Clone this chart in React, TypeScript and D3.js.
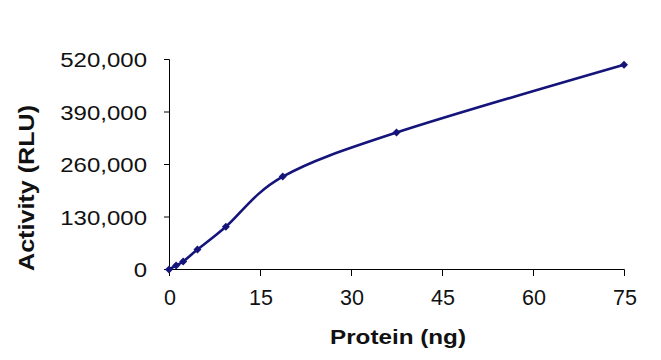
import React from "react";
import * as d3 from "d3";

const proteinNg = [0, 1.17, 2.34, 4.69, 9.38, 18.75, 37.5, 75];
const activityRLU = [0, 10000, 20000, 49500, 106000, 230000, 339000, 507000];
const xTicks = [0, 15, 30, 45, 60, 75];
const yTicks = [0, 130000, 260000, 390000, 520000];
const xTitle = "Protein (ng)";
const yTitle = "Activity (RLU)";

const W = 661;
const H = 360;
const x = d3.scaleLinear().domain([0, 75]).range([169, 624]);
const y = d3.scaleLinear().domain([0, 520000]).range([269.5, 59.5]);
const fmt = d3.format(",");
const color = "#14147a";

const charW = (s: string) =>
  s.split("").reduce((a, c) => a + (c === "," ? 0.278 : 0.556), 0);

export default function App() {
  const pts: [number, number][] = proteinNg.map((v, i) => [x(v), y(activityRLU[i])]);
  const line = d3.line().curve(d3.curveCatmullRom.alpha(0))(pts) || "";
  const font = "'Liberation Sans', Arial, sans-serif";
  return (
    <svg
      width={W}
      height={H}
      style={{ position: "absolute", left: 0, top: 0, background: "#fff" }}
      fontFamily={font}
    >
      <rect width={W} height={H} fill="#fff" />
      {/* y axis */}
      <line x1={169.5} x2={169.5} y1={y(520000)} y2={y(0)} stroke="#000" strokeWidth={1} />
      {yTicks.map((t) => (
        <g key={t}>
          <line x1={164} x2={169.5} y1={y(t)} y2={y(t)} stroke="#000" />
          <text
            x={147}
            y={y(t) + 7.5}
            textAnchor="end"
            fontSize={20.5}
            fill="#111"
            textLength={charW(fmt(t)) * 24}
            lengthAdjust="spacingAndGlyphs"
          >
            {fmt(t)}
          </text>
        </g>
      ))}
      {/* x axis */}
      <line x1={169} x2={624.5} y1={269.5} y2={269.5} stroke="#000" />
      {xTicks.map((t) => (
        <g key={t}>
          <line x1={Math.round(x(t)) + 0.5} x2={Math.round(x(t)) + 0.5} y1={269.5} y2={276} stroke="#000" />
          <text x={x(t) + 1} y={305} textAnchor="middle" fontSize={21.5} fill="#111">
            {t}
          </text>
        </g>
      ))}
      <text
        x={398}
        y={344}
        textAnchor="middle"
        fontSize={21}
        fontWeight="bold"
        fill="#111"
        textLength={136}
        lengthAdjust="spacingAndGlyphs"
      >
        {xTitle}
      </text>
      <text
        transform={`translate(34,188) rotate(-90)`}
        textAnchor="middle"
        fontSize={22}
        fontWeight="bold"
        fill="#111"
        textLength={166}
        lengthAdjust="spacingAndGlyphs"
      >
        {yTitle}
      </text>
      <path d={line} fill="none" stroke={color} strokeWidth={2.6} strokeLinejoin="round" />
      {pts.map(([px, py], i) => (
        <path
          key={i}
          d={`M${px},${py - 4}L${px + 4},${py}L${px},${py + 4}L${px - 4},${py}Z`}
          fill={color}
        />
      ))}
    </svg>
  );
}
